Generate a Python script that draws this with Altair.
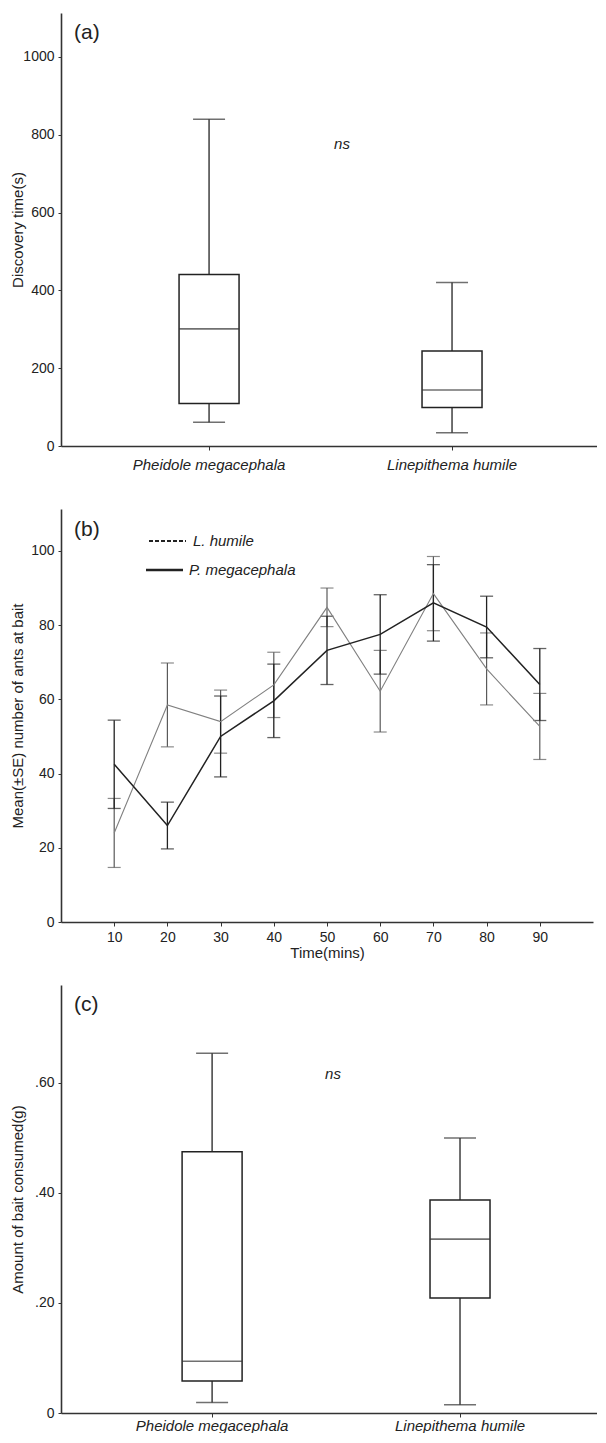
import altair as alt
import pandas as pd

# ---------------- data ----------------
species = ["Pheidole megacephala", "Linepithema humile"]

# (a) discovery time (s): box-plot summary
disc_low = [61, 34]
disc_q1 = [109, 99]
disc_med = [301, 144]
disc_q3 = [441, 244]
disc_high = [840, 420]

# (b) mean (+-SE) number of ants at bait
times = [10, 20, 30, 40, 50, 60, 70, 80, 90]
lh_mean = [24.0, 58.5, 54.0, 63.9, 84.8, 62.2, 88.5, 68.2, 52.7]
lh_se = [9.3, 11.3, 8.5, 8.8, 5.2, 11.0, 10.0, 9.7, 8.9]
pm_mean = [42.5, 26.0, 50.0, 59.6, 73.2, 77.5, 86.0, 79.5, 64.0]
pm_se = [11.9, 6.3, 10.9, 9.9, 9.2, 10.7, 10.3, 8.3, 9.7]

# (c) amount of bait consumed (g): box-plot summary
bait_low = [0.019, 0.015]
bait_q1 = [0.058, 0.209]
bait_med = [0.094, 0.316]
bait_q3 = [0.475, 0.387]
bait_high = [0.654, 0.500]

FONT = "Liberation Sans"
INK = "#222222"

HA, HB, HC, GAP = 433, 413, 428, 63


def box_panel(low, q1, med, q3, high, ytitle, ydomain, yvalues, label_expr,
              xscale, width, height, tag, ns_x, ns_y, lab_pad):
    df = pd.DataFrame({"species": species, "low": low, "q1": q1, "med": med,
                       "q3": q3, "high": high})
    xenc = alt.X("species:N", sort=species, scale=xscale,
                 axis=alt.Axis(title=None, labelFontStyle="italic", labelFontSize=15,
                               labelAngle=0, labelPadding=lab_pad, tickSize=4,
                               labelColor=INK))
    yax = alt.Axis(values=yvalues, labelExpr=label_expr, title=ytitle, titleX=-36,
                   tickSize=3, labelPadding=4)
    ysc = alt.Scale(domain=ydomain, nice=False, zero=True)

    def Y(f):
        return alt.Y(f, scale=ysc, axis=yax, title=ytitle)

    base = alt.Chart(df)
    whisk = base.mark_rule(color=INK, strokeWidth=1.3).encode(
        x=xenc, y=Y("low:Q"), y2="high:Q")
    box = base.mark_bar(size=60, fill="white", stroke=INK, strokeWidth=1.5).encode(
        x=xenc, y=Y("q1:Q"), y2="q3:Q")
    medt = base.mark_tick(size=60, thickness=1.6, orient="horizontal", color="#333").encode(
        x=xenc, y=Y("med:Q"))
    cap1 = base.mark_tick(size=32, thickness=1.5, orient="horizontal", color="#333").encode(
        x=xenc, y=Y("low:Q"))
    cap2 = base.mark_tick(size=32, thickness=1.5, orient="horizontal", color="#333").encode(
        x=xenc, y=Y("high:Q"))
    lab = alt.Chart(pd.DataFrame({"t": [tag]})).mark_text(
        align="left", baseline="middle", fontSize=21, font=FONT, color=INK).encode(
        x=alt.value(13), y=alt.value(20), text="t:N")
    ns = alt.Chart(pd.DataFrame({"t": ["ns"], "v": [ns_y]})).mark_text(
        align="center", baseline="middle", fontSize=15, fontStyle="italic",
        font=FONT, color=INK).encode(
        x=alt.value(ns_x), y=Y("v:Q"), text="t:N")
    return alt.layer(whisk, box, medt, cap1, cap2, lab, ns).properties(
        width=width, height=height)


# ---------- panel (a) ----------
pa = box_panel(disc_low, disc_q1, disc_med, disc_q3, disc_high,
               "Discovery time(s)", [0, 1113], [0, 200, 400, 600, 800, 1000],
               "format(datum.value, 'd')",
               alt.Scale(paddingInner=0.5, paddingOuter=0.353, align=0.509),
               536, HA, "(a)", 281, 775, 7)

# ---------- panel (b) ----------
rows = []
for t, m, s in zip(times, lh_mean, lh_se):
    rows.append({"time": t, "series": "L. humile", "mean": m, "lo": m - s, "hi": m + s})
for t, m, s in zip(times, pm_mean, pm_se):
    rows.append({"time": t, "series": "P. megacephala", "mean": m, "lo": m - s, "hi": m + s})
dfb = pd.DataFrame(rows)

xb = alt.X("time:Q", scale=alt.Scale(domain=[0, 100], nice=False),
           axis=alt.Axis(values=times, title="Time(mins)", tickSize=4, labelPadding=4,
                         titleFontSize=15, titlePadding=1, labelFontSize=14))
ybsc = alt.Scale(domain=[0, 111.3], nice=False)
ybax = alt.Axis(values=[0, 20, 40, 60, 80, 100], title="Mean(\u00b1SE) number of ants at bait",
                titleX=-36, tickSize=3, labelPadding=4)


def YB(f):
    return alt.Y(f, scale=ybsc, axis=ybax, title="Mean(\u00b1SE) number of ants at bait")


lh = alt.Chart(dfb).transform_filter(alt.datum.series == "L. humile")
pm = alt.Chart(dfb).transform_filter(alt.datum.series == "P. megacephala")

layers_b = []
for src, col, w in [(lh, "#5a5a5a", 1.2), (pm, INK, 1.3)]:
    layers_b.append(src.mark_rule(color=col, strokeWidth=w).encode(x=xb, y=YB("lo:Q"), y2="hi:Q"))
    layers_b.append(src.mark_tick(size=13, thickness=w, orient="horizontal", color=col).encode(
        x=xb, y=YB("lo:Q")))
    layers_b.append(src.mark_tick(size=13, thickness=w, orient="horizontal", color=col).encode(
        x=xb, y=YB("hi:Q")))
line_lh = lh.mark_line(color="#808080", strokeWidth=1.1).encode(x=xb, y=YB("mean:Q"))
line_pm = pm.mark_line(color=INK, strokeWidth=1.5).encode(x=xb, y=YB("mean:Q"))

leg = pd.DataFrame({"name": ["L. humile", "P. megacephala"]})
leg_l1 = alt.Chart(leg).transform_filter(alt.datum.name == "L. humile").mark_rule(
    color=INK, strokeWidth=2, strokeDash=[4, 2]).encode(
    x=alt.value(88), x2=alt.value(125), y=alt.value(32))
leg_l2 = alt.Chart(leg).transform_filter(alt.datum.name == "P. megacephala").mark_rule(
    color=INK, strokeWidth=2.5).encode(
    x=alt.value(85), x2=alt.value(122), y=alt.value(61))
leg_t1 = alt.Chart(leg).transform_filter(alt.datum.name == "L. humile").mark_text(
    align="left", baseline="middle", fontSize=15, fontStyle="italic", font=FONT, color=INK).encode(
    x=alt.value(132), y=alt.value(32), text="name:N")
leg_t2 = alt.Chart(leg).transform_filter(alt.datum.name == "P. megacephala").mark_text(
    align="left", baseline="middle", fontSize=15, fontStyle="italic", font=FONT, color=INK).encode(
    x=alt.value(128), y=alt.value(61), text="name:N")
lab_b = alt.Chart(pd.DataFrame({"t": ["(b)"]})).mark_text(
    align="left", baseline="middle", fontSize=21, font=FONT, color=INK).encode(
    x=alt.value(13), y=alt.value(21), text="t:N")

pb = alt.layer(*layers_b, line_lh, line_pm, leg_l1, leg_l2, leg_t1, leg_t2, lab_b).properties(
    width=532, height=HB)

# ---------- panel (c) ----------
pc = box_panel(bait_low, bait_q1, bait_med, bait_q3, bait_high,
               "Amount of bait consumed(g)", [0, 0.778], [0, 0.2, 0.4, 0.6],
               "datum.value == 0 ? '0' : replace(format(datum.value, '.2f'), '0.', '.')",
               alt.Scale(paddingInner=0.5, paddingOuter=0.331, align=0.543),
               536, HC, "(c)", 272, 0.616, 1)

chart = alt.vconcat(pa, pb, pc, spacing=GAP, bounds="flush").properties(
    padding={"left": 2, "top": 5, "right": 0, "bottom": 0}
).configure_view(stroke=None).configure_axis(
    grid=False, domainColor="#333333", domainWidth=1.6, tickColor="#333333",
    tickWidth=1, labelFont=FONT, titleFont=FONT, labelFontSize=14, titleFontSize=15,
    titleFontWeight="normal", labelColor=INK, titleColor=INK
).configure_text(font=FONT)

chart.save("out.html", embed_options={"renderer": "svg", "actions": False})
